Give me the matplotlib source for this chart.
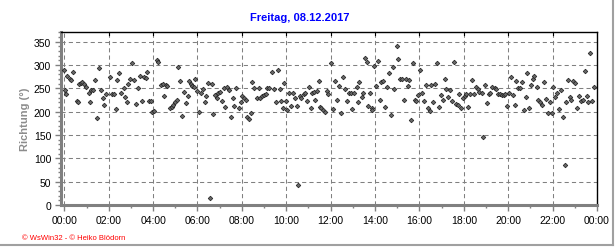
import matplotlib
matplotlib.use("Agg")
import matplotlib.pyplot as plt
from matplotlib.lines import Line2D
from matplotlib.ticker import MultipleLocator, FixedLocator

plt.rcParams["font.family"] = ["Liberation Sans", "DejaVu Sans"]

# Windrichtung: Minuten seit Mitternacht, Richtung in Grad
minuten = [
    0, 1, 4, 8, 14, 18, 23, 33, 38, 40, 44, 49, 53, 59, 66, 70, 73, 78, 84, 88,
    94, 99, 104, 108, 114, 123, 128, 134, 139, 143, 149, 154, 160, 164, 169, 173,
    178, 184, 188, 195, 200, 205, 209, 216, 220, 224, 230, 233, 238, 243, 250, 254,
    261, 266, 270, 275, 278, 285, 290, 295, 299, 304, 308, 314, 319, 324, 329, 333,
    337, 342, 346, 350, 354, 359, 365, 369, 374, 379, 384, 388, 393, 398, 403, 407,
    412, 416, 421, 426, 431, 435, 441, 446, 450, 456, 460, 465, 472, 477, 481, 486,
    490, 495, 499, 504, 508, 514, 520, 525, 530, 534, 539, 544, 549, 553, 562, 568,
    572, 577, 582, 587, 591, 595, 600, 603, 608, 614, 619, 624, 628, 631, 637, 641,
    647, 651, 656, 662, 666, 670, 675, 678, 684, 688, 691, 695, 700, 705, 710, 714,
    720, 725, 732, 736, 742, 749, 754, 760, 763, 769, 775, 778, 783, 790, 793, 797,
    804, 807, 813, 818, 821, 826, 831, 833, 838, 843, 849, 853, 856, 861, 867, 872,
    878, 883, 889, 892, 898, 903, 907, 912, 919, 923, 928, 932, 938, 943, 948, 952,
    957, 962, 966, 973, 978, 984, 988, 991, 997, 1002, 1008, 1013, 1019, 1023, 1029,
    1033, 1038, 1043, 1048, 1054, 1058, 1063, 1067, 1073, 1078, 1083, 1087, 1092,
    1097, 1102, 1108, 1112, 1118, 1122, 1128, 1132, 1137, 1143, 1147, 1152, 1157,
    1163, 1168, 1173, 1178, 1183, 1188, 1192, 1197, 1202, 1207, 1213, 1218, 1222,
    1227, 1231, 1236, 1242, 1248, 1251, 1256, 1261, 1266, 1270, 1278, 1281, 1287,
    1291, 1297, 1302, 1308, 1312, 1317, 1321, 1327, 1333, 1337, 1342, 1347, 1353,
    1357, 1361, 1366, 1371, 1376, 1381, 1386, 1391, 1397, 1402, 1407, 1413, 1416,
    1421, 1426, 1432,
]
richtung = [
    290, 246, 239, 277, 271, 268, 286, 223, 221, 259, 261, 264, 259, 254, 240, 221,
    247, 246, 268, 186, 294, 246, 230, 214, 237, 274, 237, 237, 206, 269, 284, 240,
    250, 232, 221, 259, 271, 304, 269, 216, 251, 276, 223, 275, 273, 286, 223, 223,
    199, 201, 312, 306, 258, 259, 234, 257, 256, 208, 210, 214, 221, 225, 295, 265,
    191, 243, 218, 234, 265, 259, 256, 252, 270, 244, 199, 241, 249, 221, 234, 261,
    14, 260, 196, 236, 230, 240, 243, 224, 251, 210, 252, 246, 188, 230, 213, 250,
    209, 221, 234, 230, 226, 189, 184, 197, 263, 250, 229, 251, 229, 233, 236, 239,
    251, 251, 286, 249, 220, 289, 248, 224, 209, 261, 224, 204, 240, 213, 240, 229,
    212, 43, 234, 229, 237, 240, 223, 254, 207, 240, 243, 226, 244, 265, 211, 207,
    204, 200, 244, 237, 304, 205, 265, 226, 256, 197, 275, 249, 224, 240, 240, 205,
    240, 252, 220, 263, 231, 240, 315, 306, 213, 240, 207, 204, 299, 256, 308, 225,
    264, 266, 211, 254, 283, 192, 295, 249, 340, 313, 270, 271, 225, 271, 256, 269,
    182, 304, 226, 223, 236, 289, 241, 224, 257, 209, 201, 257, 221, 259, 304, 211,
    236, 226, 271, 249, 231, 246, 224, 306, 216, 214, 239, 209, 230, 234, 237, 211,
    237, 268, 238, 254, 248, 243, 240, 145, 257, 219, 237, 240, 254, 250, 248, 239,
    237, 236, 236, 237, 212, 240, 274, 236, 214, 266, 251, 250, 263, 204, 232, 283,
    207, 257, 271, 277, 252, 226, 220, 214, 263, 228, 197, 221, 197, 254, 232, 240,
    206, 247, 189, 86, 221, 268, 232, 226, 266, 261, 209, 234, 223, 226, 287, 234,
    221, 327, 222, 253,
]

titel = "Freitag, 08.12.2017"
x_ticks = list(range(0, 1441, 120))
x_labels = [f"{(m // 60) % 24:02d}:00" for m in x_ticks]

fig = plt.figure(figsize=(6.16, 2.53), dpi=100)
ax = fig.add_axes([61 / 616, 1 - 206 / 253, (597 - 61) / 616, (206 - 33) / 253])

ax.grid(True, color="#808080", linewidth=0.75, linestyle=(0, (4, 3)))
ax.set_axisbelow(True)
ax.plot(minuten, richtung, linestyle="none", marker="D", markersize=2.3,
        markerfacecolor="#6a6a6a", markeredgecolor="#2a2a2a", markeredgewidth=0.6,
        zorder=3)

ax.set_xlim(-9, 1440)
ax.set_ylim(0, 371)
ax.xaxis.set_major_locator(FixedLocator(x_ticks))
ax.xaxis.set_minor_locator(MultipleLocator(60))
ax.set_xticklabels(x_labels)
ax.yaxis.set_major_locator(FixedLocator(range(0, 351, 50)))
ax.yaxis.set_minor_locator(MultipleLocator(10))

for s in ("left", "bottom"):
    ax.spines[s].set_color("#808080")
    ax.spines[s].set_linewidth(2.2)
for s in ("top", "right"):
    ax.spines[s].set_color("black")
    ax.spines[s].set_linewidth(1.0)

ax.tick_params(axis="both", which="major", length=4, width=1, color="#808080",
               labelsize=7.5, labelcolor="black", pad=3, direction="out")
ax.tick_params(axis="both", which="minor", length=2.5, width=1, color="#808080",
               direction="out")

# kurze Striche innen an der oberen Kante
for m in x_ticks[1:-1]:
    ax.plot([m, m], [1, 0.985], color="black", linewidth=0.8,
            transform=ax.get_xaxis_transform(), clip_on=False)

ax.set_ylabel("Richtung (°)", color="#8c8c8c", fontsize=8, fontweight="bold")
ax.yaxis.set_label_coords(-0.058, 0.5)

fig.text(300 / 616, 1 - 18 / 253, titel, color="#0000ff", fontsize=8,
         fontweight="bold", ha="center", va="center")
fig.text(22 / 616, 1 - 239 / 253, "© WsWin32 - © Heiko Blödorn", color="red",
         fontsize=5.5, ha="left", va="center")

# grauer Rahmen rechts und unten
fig.add_artist(Line2D([613 / 616, 613 / 616], [1 - 246 / 253, 1], color="#a0a0a0",
                      linewidth=1.5, transform=fig.transFigure))
fig.add_artist(Line2D([0, 613 / 616], [1 - 246 / 253, 1 - 246 / 253], color="#a0a0a0",
                      linewidth=1.5, transform=fig.transFigure))

fig.savefig("out.png", dpi=100)
